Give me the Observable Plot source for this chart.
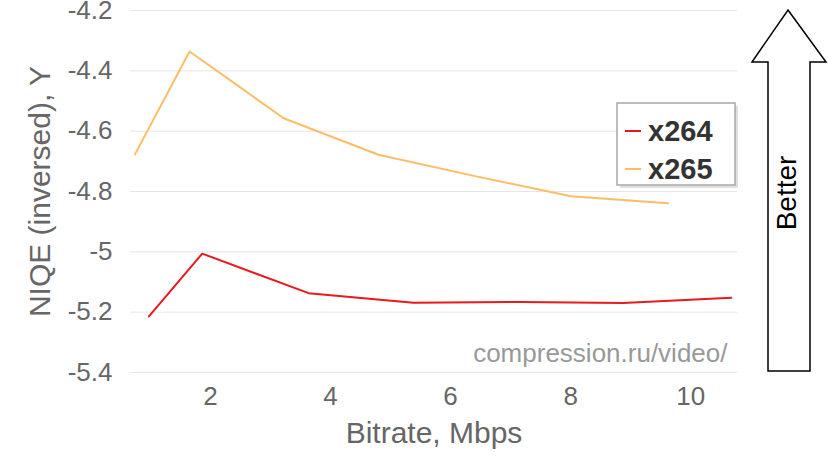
<!DOCTYPE html>
<html>
<head>
<meta charset="utf-8">
<script src="https://cdn.jsdelivr.net/npm/d3@7"></script>
<script src="https://cdn.jsdelivr.net/npm/@observablehq/plot@0.6"></script>
<style>
  html, body { margin: 0; padding: 0; background: #fff; }
  #chart svg { display: block; }
</style>
</head>
<body>
<div id="chart"></div>
<script>
const seriesNames = ["x264", "x265"];
const seriesColors = ["#e8191f", "#fdbd68"];
const x264Bitrate = [0.974, 1.862, 3.635, 5.381, 7.156, 8.874, 10.677];
const x264Niqe = [-5.214, -5.006, -5.137, -5.169, -5.166, -5.170, -5.152];
const x265Bitrate = [0.741, 1.651, 3.219, 4.799, 6.407, 8.004, 9.622];
const x265Niqe = [-4.677, -4.336, -4.557, -4.678, -4.749, -4.816, -4.839];
const xTicks = [2, 4, 6, 8, 10];
const yTicks = [-5.4, -5.2, -5.0, -4.8, -4.6, -4.4, -4.2];
const xLabel = "Bitrate, Mbps";
const yLabel = "NIQE (inversed), Y";
const watermark = "compression.ru/video/";
const arrowLabel = "Better";

const data = [
  ...x264Bitrate.map((b, i) => ({codec: "x264", bitrate: b, niqe: x264Niqe[i]})),
  ...x265Bitrate.map((b, i) => ({codec: "x265", bitrate: b, niqe: x265Niqe[i]}))
];

const font = "'Liberation Sans', Arial, Helvetica, sans-serif";
const fmt = d => String(Math.round(d * 10) / 10);

const plot = Plot.plot({
  width: 830,
  height: 467,
  marginLeft: 130,
  marginRight: 93,
  marginTop: 10,
  marginBottom: 95,
  style: {fontFamily: font, fontSize: "26px", color: "#666", background: "#fff"},
  x: {domain: [0.667, 10.78]},
  y: {domain: [-5.4, -4.2]},
  color: {domain: seriesNames, range: seriesColors},
  marks: [
    Plot.gridY(yTicks, {stroke: "#e6e6e6", strokeOpacity: 1, strokeWidth: 1}),
    Plot.axisY(yTicks, {tickSize: 0, tickPadding: 18, tickFormat: fmt, label: null, fill: "#666", fontSize: 26}),
    Plot.axisX(xTicks, {tickSize: 0, tickPadding: 14, tickFormat: fmt, label: null, fill: "#666", fontSize: 26}),
    Plot.line(data, {x: "bitrate", y: "niqe", z: "codec", stroke: "codec", strokeWidth: 2}),
    Plot.text([xLabel], {frameAnchor: "bottom", textAnchor: "middle", lineAnchor: "middle", dy: 61, fontSize: 30, fill: "#666"}),
    Plot.text([yLabel], {frameAnchor: "left", textAnchor: "middle", lineAnchor: "middle", dx: -90, rotate: -90, fontSize: 30, fill: "#666"}),
    Plot.text([watermark], {frameAnchor: "bottom-right", textAnchor: "end", lineAnchor: "middle", dx: -10, dy: -19, fontSize: 26, fill: "#999"})
  ]
});

const svg = d3.select(plot);

// Legend
const lg = svg.append("g").style("font-family", font);
lg.append("rect").attr("x", 620).attr("y", 106).attr("width", 118).attr("height", 82)
  .attr("fill", "#ccc").attr("opacity", 0.6);
lg.append("rect").attr("x", 617).attr("y", 103).attr("width", 118).attr("height", 82)
  .attr("fill", "#fff").attr("stroke", "#a8a8a8").attr("stroke-width", 1.5);
seriesNames.forEach((name, i) => {
  const cy = 131 + i * 38;
  lg.append("line").attr("x1", 625).attr("x2", 641).attr("y1", cy).attr("y2", cy)
    .attr("stroke", seriesColors[i]).attr("stroke-width", 2);
  lg.append("text").attr("x", 648).attr("y", cy).attr("dy", "0.35em")
    .style("font-size", "29px").style("font-weight", "bold").style("text-anchor", "start")
    .attr("fill", "#333").text(name);
});

// Better arrow
const ag = svg.append("g").style("font-family", font);
ag.append("path")
  .attr("d", "M788,10 L826,62 L810,62 L810,371 L768,371 L768,62 L752,62 Z")
  .attr("fill", "#fff").attr("stroke", "#000").attr("stroke-width", 1.5).attr("stroke-linejoin", "miter");
ag.append("text").attr("transform", "translate(796,193) rotate(-90)")
  .style("text-anchor", "middle").style("font-size", "28px").attr("fill", "#000").text(arrowLabel);

document.getElementById("chart").appendChild(plot);
</script>
</body>
</html>
